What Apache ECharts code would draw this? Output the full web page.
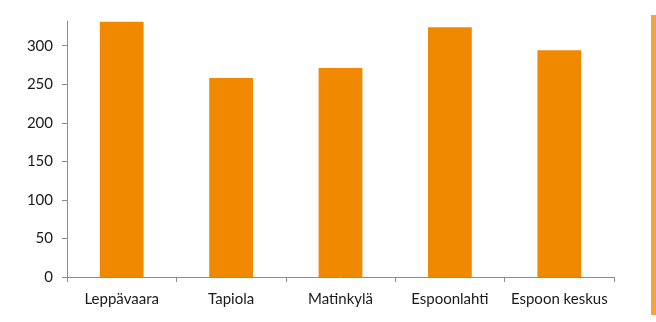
<!DOCTYPE html>
<html lang="fi">
<head>
    <meta charset="UTF-8">
    <title>Pylväskaavio</title>
    <script src="https://cdn.jsdelivr.net/npm/echarts@6/dist/echarts.min.js"></script>
    <style>
        html, body { margin: 0; padding: 0; background: #fff; }
    </style>
</head>
<body>
<div id="main" style="width: 656px;height:322px;"></div>

<script>
    // alueet ja arvot (luettu kuvasta)
    var alueet = ['Leppävaara', 'Tapiola', 'Matinkylä', 'Espoonlahti', 'Espoon keskus'];
    var arvot = [331, 258, 271, 324, 294];
    var yTicks = [0, 50, 100, 150, 200, 250, 300];

    var myChart = echarts.init(document.getElementById('main'));
    var axisGray = '#8c8c8c';
    var textFont = 'Lato';

    var option = {
        animation: false,
        grid: {
            left: 67,
            right: 42,
            top: 21,
            bottom: 45
        },
        xAxis: {
            type: 'category',
            data: alueet,
            axisLine: { lineStyle: { color: axisGray, width: 1 } },
            axisTick: { show: true, length: 5, lineStyle: { color: axisGray } },
            axisLabel: {
                interval: 0,
                color: '#1a1a1a',
                fontFamily: textFont,
                fontSize: 15,
                margin: 15
            }
        },
        yAxis: {
            type: 'value',
            min: 0,
            max: 332,
            interval: 50,
            axisLine: { show: true, lineStyle: { color: axisGray, width: 1 } },
            axisTick: { show: true, length: 5, lineStyle: { color: axisGray } },
            splitLine: { show: false },
            axisLabel: {
                color: '#1a1a1a',
                fontFamily: textFont,
                fontSize: 15,
                margin: 14,
                showMaxLabel: false,
                formatter: function (v) {
                    return yTicks.indexOf(v) >= 0 ? String(v) : '';
                }
            }
        },
        series: [{
            type: 'bar',
            data: arvot,
            barWidth: '40%',
            itemStyle: { color: '#f08800' }
        }],
        graphic: [{
            type: 'rect',
            right: 0,
            top: 15,
            shape: { width: 5, height: 300 },
            style: { fill: '#f4a33f' }
        }]
    };

    myChart.setOption(option);
</script>
</body>
</html>
